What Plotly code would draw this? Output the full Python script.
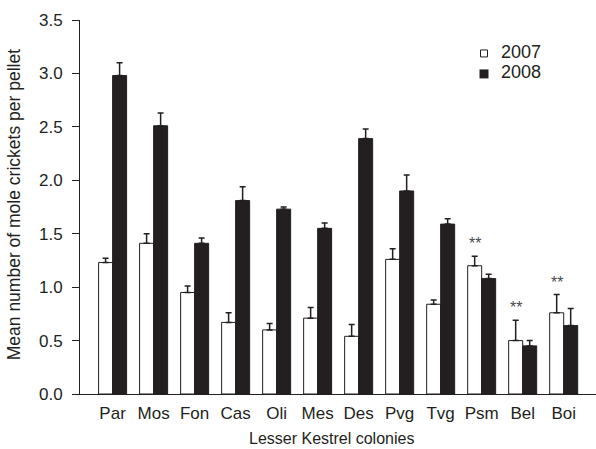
import plotly.graph_objects as go

colonies = ["Par", "Mos", "Fon", "Cas", "Oli", "Mes", "Des", "Pvg", "Tvg", "Psm", "Bel", "Boi"]
mean_2007 = [1.23, 1.41, 0.95, 0.67, 0.60, 0.71, 0.54, 1.26, 0.84, 1.20, 0.50, 0.76]
se_2007 = [0.04, 0.09, 0.06, 0.09, 0.06, 0.10, 0.11, 0.10, 0.04, 0.09, 0.19, 0.17]
mean_2008 = [2.98, 2.51, 1.41, 1.81, 1.73, 1.55, 2.39, 1.90, 1.59, 1.08, 0.45, 0.64]
se_2008 = [0.12, 0.12, 0.05, 0.13, 0.02, 0.05, 0.09, 0.15, 0.05, 0.04, 0.05, 0.16]
sig_2007 = ["", "", "", "", "", "", "", "", "", "**", "**", "**"]
y_ticks = [0.0, 0.5, 1.0, 1.5, 2.0, 2.5, 3.0, 3.5]
years = ["2007", "2008"]

INK = "#231f20"
FONT = "Liberation Sans, Arial, sans-serif"
BARGAP = 0.317

# plot area geometry (pixels)
L, R, T, B = 80, 0, 19.5, 55
W, H = 596, 449
PW, PH = W - L - R, H - T - B


def px_x(px):
    return (px - L) / PW


def px_y(py):
    return (H - B - py) / PH


fig = go.Figure()
fig.add_trace(go.Bar(
    x=colonies, y=mean_2007, name=years[0], showlegend=False,
    marker=dict(color="white", line=dict(color=INK, width=1)),
    error_y=dict(type="data", array=se_2007, arrayminus=[0] * len(se_2007),
                 symmetric=False, color=INK, thickness=1.5, width=3),
))
fig.add_trace(go.Bar(
    x=colonies, y=mean_2008, name=years[1], showlegend=False,
    marker=dict(color=INK, line=dict(color=INK, width=1)),
    error_y=dict(type="data", array=se_2008, arrayminus=[0] * len(se_2008),
                 symmetric=False, color=INK, thickness=1.5, width=3),
))

half = (1 - BARGAP) / 4
for i, s in enumerate(sig_2007):
    if s:
        fig.add_annotation(x=i - half, y=mean_2007[i] + se_2007[i], text=s,
                           showarrow=False, yanchor="bottom", yshift=2,
                           font=dict(size=16, color="#4a4a4a", family=FONT))

# manual legend
fig.add_shape(type="rect", xref="paper", yref="paper",
              x0=px_x(480.5), x1=px_x(487.5), y0=px_y(56.5), y1=px_y(49.5),
              line=dict(color=INK, width=1), fillcolor="white")
fig.add_shape(type="rect", xref="paper", yref="paper",
              x0=px_x(479.5), x1=px_x(488.5), y0=px_y(78), y1=px_y(69),
              line=dict(color=INK, width=0), fillcolor=INK)
for yr, cy in zip(years, [51.5, 72]):
    fig.add_annotation(text=yr, xref="paper", yref="paper", x=px_x(499), y=px_y(cy),
                       xanchor="left", yanchor="middle", showarrow=False,
                       font=dict(size=18, color=INK, family=FONT))

fig.add_annotation(text="Lesser Kestrel colonies", xref="paper", yref="paper",
                   x=px_x(331), y=px_y(438.5), xanchor="center", yanchor="middle",
                   showarrow=False, borderpad=0,
                   font=dict(size=16, color=INK, family=FONT))
fig.add_annotation(text="Mean number of mole crickets per pellet", xref="paper", yref="paper",
                   x=px_x(14), y=px_y(205), xanchor="center", yanchor="middle",
                   textangle=-90, showarrow=False,
                   font=dict(size=17.5, color=INK, family=FONT))

fig.update_layout(
    width=W, height=H,
    margin=dict(l=L, r=R, t=T, b=B),
    paper_bgcolor="white", plot_bgcolor="white",
    barmode="group", bargap=BARGAP, bargroupgap=0,
    font=dict(family=FONT, color=INK, size=16),
    showlegend=False,
    xaxis=dict(type="category", range=[-0.795, 11.788], showline=True,
               linecolor=INK, linewidth=1, ticks="", showgrid=False,
               zeroline=False, tickfont=dict(size=17), ticklabelstandoff=4),
    yaxis=dict(range=[0, 3.5], tickvals=y_ticks, tickformat=".1f",
               showline=True, linecolor=INK, linewidth=1, ticks="outside",
               ticklen=7, tickcolor=INK, showgrid=False, zeroline=False,
               tickfont=dict(size=17), ticklabelstandoff=6),
)

fig.write_html("out.html", config={"displayModeBar": False},
               post_script="document.body.style.margin='0';document.body.style.overflow='hidden';")
